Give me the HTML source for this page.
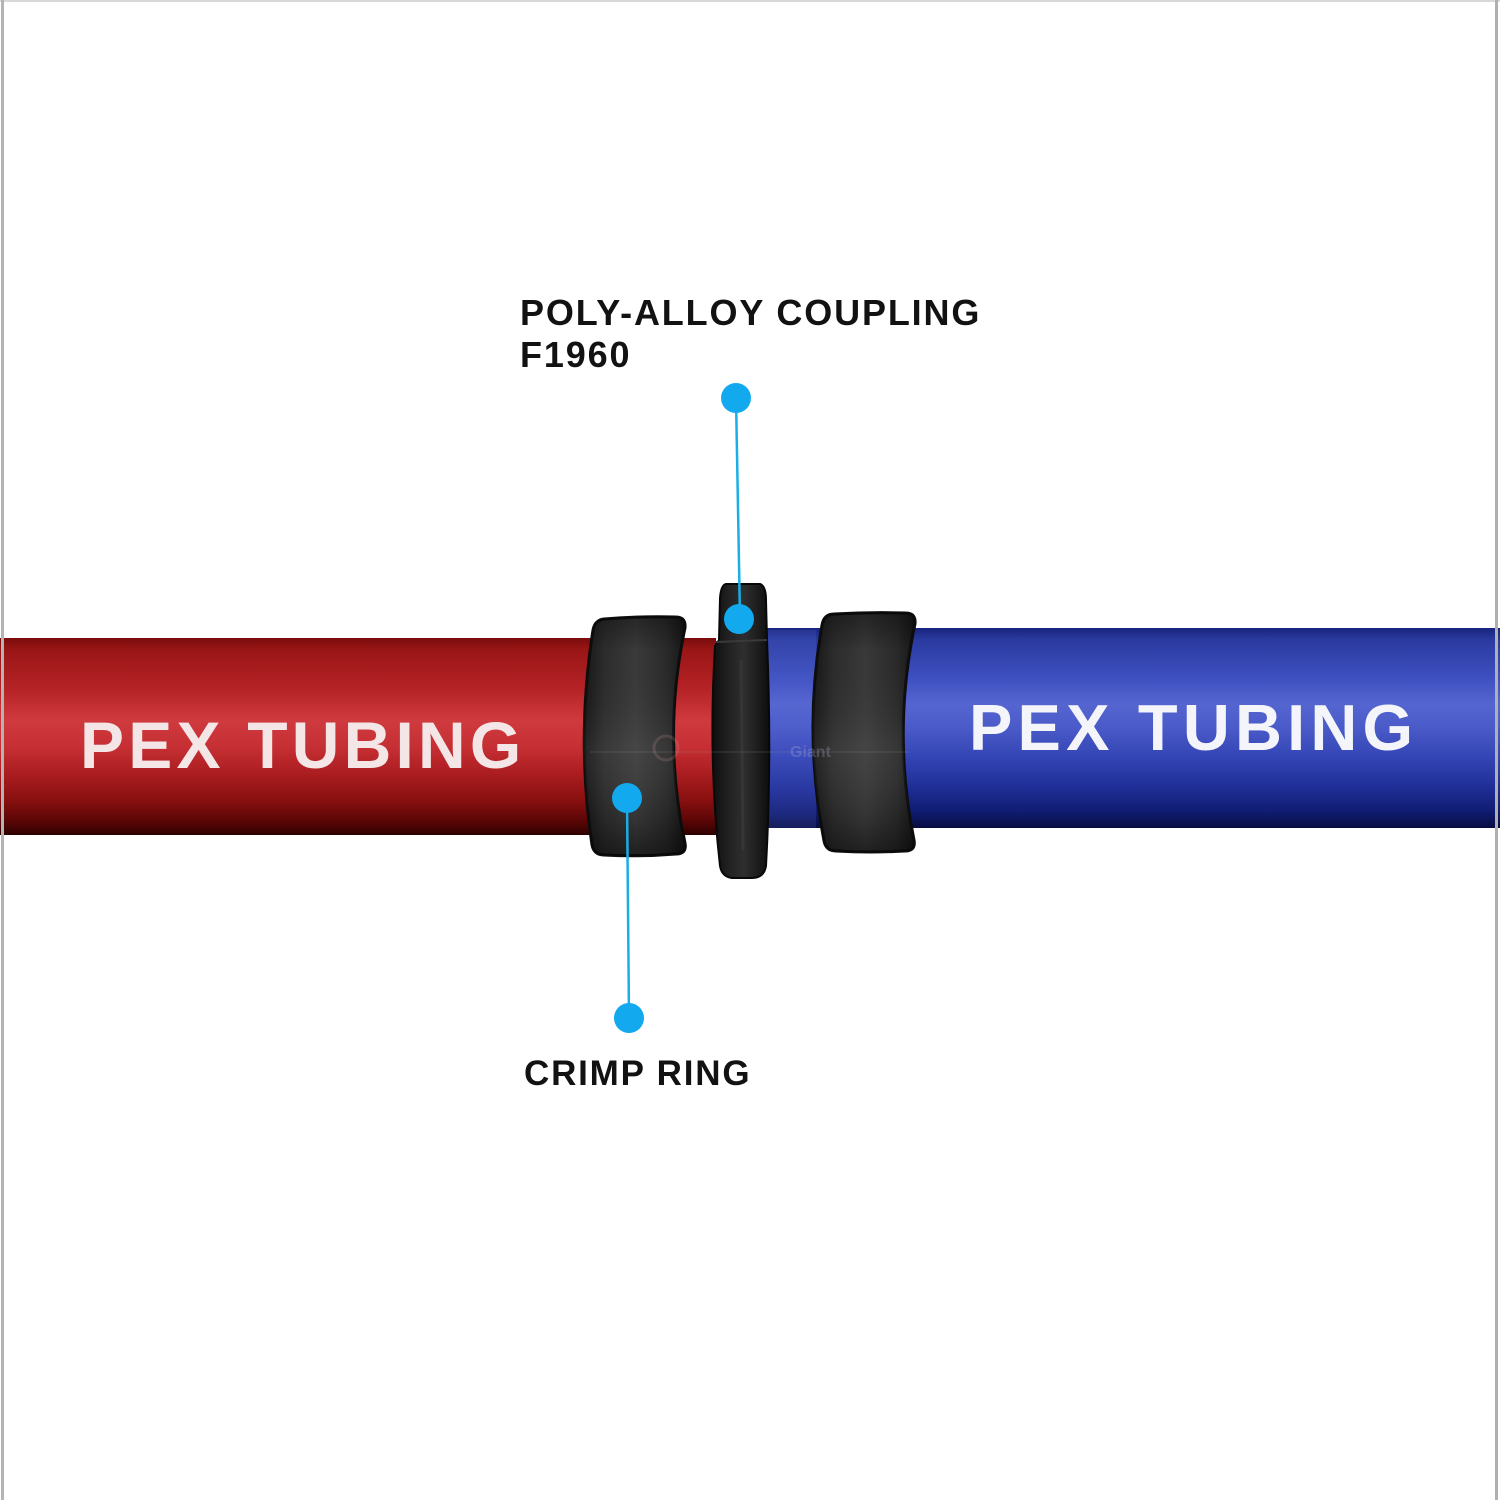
<!DOCTYPE html>
<html>
<head>
<meta charset="utf-8">
<style>
  html,body{margin:0;padding:0;background:#fff;}
  body{width:1500px;height:1500px;overflow:hidden;}
  svg{display:block;}
  .lbl{font-family:"Liberation Sans",Arial,sans-serif;font-weight:700;fill:#121212;}
  .pex{font-family:"Liberation Sans",Arial,sans-serif;font-weight:700;}
</style>
</head>
<body>
<svg width="1500" height="1500" viewBox="0 0 1500 1500" xmlns="http://www.w3.org/2000/svg">
  <defs>
    <linearGradient id="red" x1="0" y1="638" x2="0" y2="835" gradientUnits="userSpaceOnUse">
      <stop offset="0" stop-color="#7a0c0c"/>
      <stop offset="0.06" stop-color="#9a1616"/>
      <stop offset="0.25" stop-color="#b42226"/>
      <stop offset="0.42" stop-color="#cf3a3e"/>
      <stop offset="0.55" stop-color="#c63034"/>
      <stop offset="0.68" stop-color="#ad1e22"/>
      <stop offset="0.82" stop-color="#8a1010"/>
      <stop offset="0.93" stop-color="#5a0606"/>
      <stop offset="1" stop-color="#2e0000"/>
    </linearGradient>
    <linearGradient id="blue" x1="0" y1="628" x2="0" y2="828" gradientUnits="userSpaceOnUse">
      <stop offset="0" stop-color="#18247e"/>
      <stop offset="0.06" stop-color="#2a3aa0"/>
      <stop offset="0.25" stop-color="#3e50c0"/>
      <stop offset="0.38" stop-color="#5565d0"/>
      <stop offset="0.5" stop-color="#4a5ac8"/>
      <stop offset="0.65" stop-color="#3344b4"/>
      <stop offset="0.8" stop-color="#1f2e96"/>
      <stop offset="0.92" stop-color="#101c70"/>
      <stop offset="1" stop-color="#070d40"/>
    </linearGradient>
    <linearGradient id="ringL" x1="583" y1="0" x2="688" y2="0" gradientUnits="userSpaceOnUse">
      <stop offset="0" stop-color="#151515"/>
      <stop offset="0.2" stop-color="#2c2c2c"/>
      <stop offset="0.5" stop-color="#3a3a3a"/>
      <stop offset="0.8" stop-color="#2a2a2a"/>
      <stop offset="1" stop-color="#121212"/>
    </linearGradient>
    <linearGradient id="ringR" x1="812" y1="0" x2="918" y2="0" gradientUnits="userSpaceOnUse">
      <stop offset="0" stop-color="#151515"/>
      <stop offset="0.2" stop-color="#2c2c2c"/>
      <stop offset="0.5" stop-color="#393939"/>
      <stop offset="0.8" stop-color="#2a2a2a"/>
      <stop offset="1" stop-color="#121212"/>
    </linearGradient>
    <linearGradient id="ringV" x1="0" y1="615" x2="0" y2="855" gradientUnits="userSpaceOnUse">
      <stop offset="0" stop-color="#000" stop-opacity="0.35"/>
      <stop offset="0.15" stop-color="#000" stop-opacity="0"/>
      <stop offset="0.55" stop-color="#fff" stop-opacity="0.06"/>
      <stop offset="0.85" stop-color="#000" stop-opacity="0.1"/>
      <stop offset="1" stop-color="#000" stop-opacity="0.45"/>
    </linearGradient>
    <linearGradient id="coup" x1="712" y1="0" x2="770" y2="0" gradientUnits="userSpaceOnUse">
      <stop offset="0" stop-color="#0e0e0e"/>
      <stop offset="0.3" stop-color="#222"/>
      <stop offset="0.55" stop-color="#2e2e2e"/>
      <stop offset="0.8" stop-color="#1c1c1c"/>
      <stop offset="1" stop-color="#0c0c0c"/>
    </linearGradient>
  </defs>

  <rect x="0" y="0" width="1500" height="1500" fill="#fff"/>

  <!-- red tube -->
  <rect x="0" y="638" width="716" height="197" fill="url(#red)"/>
  <!-- blue tube -->
  <rect x="764" y="628" width="736" height="200" fill="url(#blue)"/>
  <rect x="766" y="630" width="50" height="198" fill="#6070d8" opacity="0.18"/>

  <!-- left crimp ring -->
  <path id="rl" d="M604 619 Q640 616 676 617 Q686 617 685 628 Q662 736 685 843 Q687 854 676 854 Q640 857 604 855 Q594 855 592 845 Q576 738 593 630 Q595 620 604 619 Z" fill="url(#ringL)" stroke="#0d0d0d" stroke-width="3" stroke-linejoin="round"/>
  <path d="M604 619 Q640 616 676 617 Q686 617 685 628 Q662 736 685 843 Q687 854 676 854 Q640 857 604 855 Q594 855 592 845 Q576 738 593 630 Q595 620 604 619 Z" fill="url(#ringV)"/>

  <!-- right crimp ring -->
  <path d="M834 614 Q870 612 906 613 Q916 613 915 624 Q892 732 914 840 Q916 851 905 851 Q870 853 836 851 Q826 851 824 841 Q803 732 822 625 Q824 614 834 614 Z" fill="url(#ringR)" stroke="#0d0d0d" stroke-width="3" stroke-linejoin="round"/>
  <path d="M834 614 Q870 612 906 613 Q916 613 915 624 Q892 732 914 840 Q916 851 905 851 Q870 853 836 851 Q826 851 824 841 Q803 732 822 625 Q824 614 834 614 Z" fill="url(#ringV)"/>

  <!-- coupling -->
  <path d="M726 584 L760 584 Q766 586 766 600 L767 640 Q772 760 766 866 Q764 878 752 878 L732 878 Q722 877 720 866 Q708 760 715 646 L719 640 L720 598 Q721 585 726 584 Z" fill="url(#coup)" stroke="#080808" stroke-width="2" stroke-linejoin="round"/>
  <line x1="716" y1="642" x2="767" y2="640" stroke="#3a3a3a" stroke-width="2"/>
  <line x1="741" y1="660" x2="743" y2="850" stroke="#3c3c3c" stroke-width="3" opacity="0.6"/>

  <!-- faint reflection line / logo -->
  <line x1="590" y1="752" x2="910" y2="752" stroke="#9a9a9a" stroke-width="2" opacity="0.12"/>
  <text x="790" y="757" font-family="Liberation Sans, sans-serif" font-size="16" font-weight="700" fill="#b8bce0" opacity="0.25">Giant</text>
  <circle cx="666" cy="748" r="12" fill="none" stroke="#d8a0a0" stroke-width="3" opacity="0.18"/>

  <!-- PEX TUBING labels -->
  <text class="pex" x="80" y="768" font-size="66" letter-spacing="4.2" fill="#f4e6e6">PEX TUBING</text>
  <text class="pex" x="969" y="750" font-size="65" letter-spacing="5.2" fill="#f4f4fb">PEX TUBING</text>

  <!-- callout lines -->
  <line x1="736" y1="398" x2="740" y2="618" stroke="#19aee6" stroke-width="2.5"/>
  <circle cx="736" cy="398" r="15" fill="#12a9ef"/>
  <circle cx="739" cy="619" r="15" fill="#12a9ef"/>

  <line x1="627" y1="798" x2="629" y2="1018" stroke="#19aee6" stroke-width="2.5"/>
  <circle cx="627" cy="798" r="15" fill="#12a9ef"/>
  <circle cx="629" cy="1018" r="15" fill="#12a9ef"/>

  <!-- labels -->
  <text class="lbl" x="520" y="325" font-size="36" letter-spacing="1.85">POLY-ALLOY COUPLING</text>
  <text class="lbl" x="520" y="367" font-size="36" letter-spacing="1.85">F1960</text>
  <text class="lbl" x="524" y="1085" font-size="35" letter-spacing="1.8">CRIMP RING</text>

  <!-- gray border -->
  <rect x="0" y="0" width="1500" height="2" fill="#d8d8d8"/>
  <rect x="1" y="0" width="3" height="1500" fill="#b4b4b4"/>
  <rect x="1495" y="0" width="3" height="1500" fill="#b0b0b0"/>
</svg>
</body>
</html>
